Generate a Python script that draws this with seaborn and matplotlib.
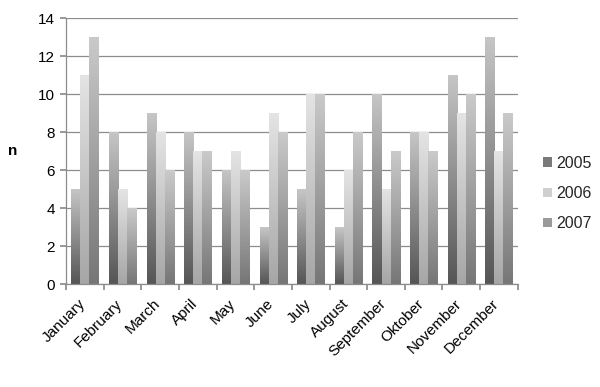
"""Monthly counts 2005-2007, grouped bars with Excel-style gradient fill."""

import matplotlib

matplotlib.use("Agg")
import matplotlib.pyplot as plt
import matplotlib.transforms as mtransforms
import numpy as np
import pandas as pd
import seaborn as sns
from matplotlib.colors import LinearSegmentedColormap
from matplotlib.patches import Patch

MONTHS = [
    "January", "February", "March", "April", "May", "June",
    "July", "August", "September", "Oktober", "November", "December",
]
YEARS = ["2005", "2006", "2007"]
N_2005 = [5, 8, 9, 8, 6, 3, 5, 3, 10, 8, 11, 13]
N_2006 = [11, 5, 8, 7, 7, 9, 10, 6, 5, 8, 9, 7]
N_2007 = [13, 4, 6, 7, 6, 8, 10, 8, 7, 7, 10, 9]

# bottom -> top colours of each series' gradient
GRADIENTS = {
    "2005": ("#555555", "#c6c6c6"),
    "2006": ("#a6a6a6", "#e4e4e4"),
    "2007": ("#767676", "#cacaca"),
}
LEGEND_COLORS = {"2005": "#7a7a7a", "2006": "#cfcfcf", "2007": "#9a9a9a"}

df = pd.DataFrame({
    "month": MONTHS * 3,
    "year": [y for y in YEARS for _ in MONTHS],
    "n": N_2005 + N_2006 + N_2007,
})

sns.set_theme(style="white")
plt.rcParams["font.family"] = ["Liberation Sans", "DejaVu Sans"]

fig = plt.figure(figsize=(6.0, 3.87), dpi=100)
ax = fig.add_axes([0.11, 0.266, 0.753, 0.687])

sns.barplot(
    data=df, x="month", y="n", hue="year", order=MONTHS, hue_order=YEARS,
    palette=LEGEND_COLORS, width=0.72, saturation=1, legend=False, ax=ax,
)

xlim = (-0.5, len(MONTHS) - 0.5)
ylim = (0, 14)
grad = np.linspace(0, 1, 256).reshape(-1, 1)
for year, container in zip(YEARS, ax.containers):
    cmap = LinearSegmentedColormap.from_list(year, GRADIENTS[year])
    for bar in container:
        x0, y0 = bar.get_x(), bar.get_y()
        w, h = bar.get_width(), bar.get_height()
        bar.set_facecolor("none")
        bar.set_edgecolor("none")
        ax.imshow(grad, extent=[x0, x0 + w, y0, y0 + h], origin="lower",
                  aspect="auto", cmap=cmap, zorder=2)

ax.set_xlim(*xlim)
ax.set_ylim(*ylim)
ax.set_yticks(range(0, 15, 2))
ax.yaxis.grid(True, color="#8c8c8c", linewidth=0.9)
ax.set_axisbelow(True)

for side in ("top", "right"):
    ax.spines[side].set_visible(False)
for side in ("left", "bottom"):
    ax.spines[side].set_color("#8c8c8c")
    ax.spines[side].set_linewidth(0.9)

# category ticks sit on the group boundaries, labels at the centres
ax.set_xticks(np.arange(-0.5, len(MONTHS), 1.0))
ax.set_xticklabels([])
ax.set_xticks(range(len(MONTHS)), minor=True)
ax.set_xticklabels(MONTHS, minor=True, rotation=45, ha="right",
                   rotation_mode="anchor", fontsize=11, color="black")
ax.tick_params(axis="x", which="major", direction="out", length=4,
               color="#8c8c8c", bottom=True)
ax.tick_params(axis="x", which="minor", length=0, pad=6)
ax.tick_params(axis="y", direction="out", length=4, color="#8c8c8c",
               left=True, labelsize=11, labelcolor="black", pad=4)

# nudge month labels a little left/down, as in the original
shift = mtransforms.ScaledTranslation(-5 / 72, -3 / 72, fig.dpi_scale_trans)
for lbl in ax.get_xticklabels(minor=True):
    lbl.set_transform(lbl.get_transform() + shift)

ax.set_xlabel("")
ax.set_ylabel("n", rotation=0, fontsize=11, fontweight="bold",
              color="black", labelpad=18, va="center")

handles = [Patch(facecolor=LEGEND_COLORS[y], edgecolor="none", label=y) for y in YEARS]
fig.legend(handles=handles, loc="center left", bbox_to_anchor=(0.895, 0.50),
           frameon=False, fontsize=11.5, handlelength=0.55, handleheight=0.55,
           handletextpad=0.25, labelspacing=0.95, borderaxespad=0)

fig.savefig("out.png", dpi=100)
